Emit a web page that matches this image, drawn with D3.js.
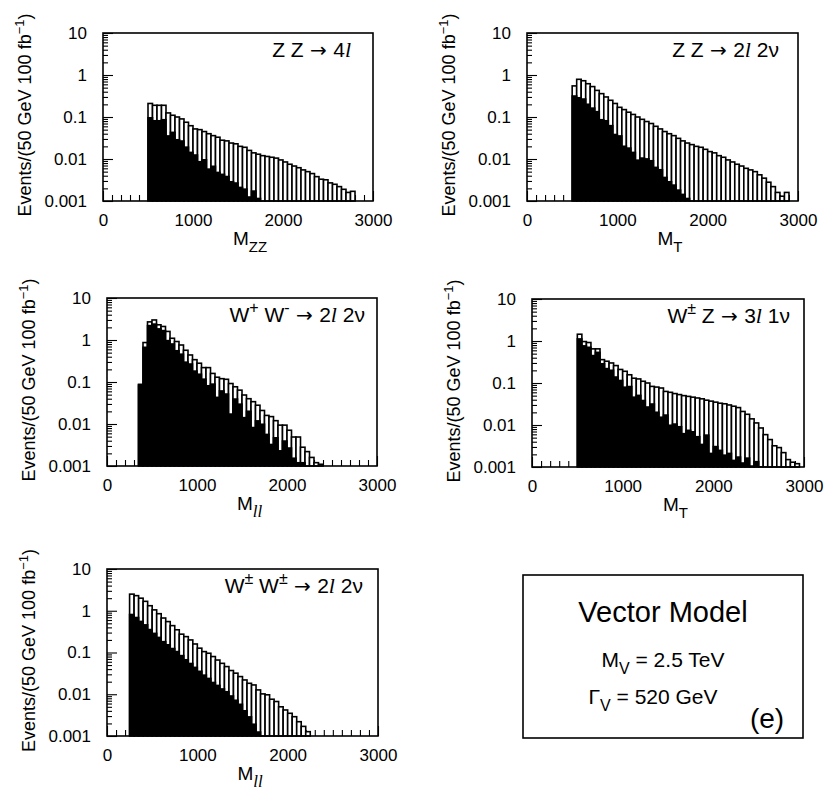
<!DOCTYPE html>
<html><head><meta charset="utf-8">
<script src="https://cdn.jsdelivr.net/npm/d3@7"></script>
<style>
body{margin:0;background:#fff}
text{font-family:"Liberation Sans",Arial,Helvetica,sans-serif;fill:#000}
</style>
</head><body>
<svg id="c" width="825" height="795"></svg>
<script>
// ---------------- data ----------------
const binWidth = 50;
const xTickValues = [0, 1000, 2000, 3000];
const xTickLabels = ["0", "1000", "2000", "3000"];
const yTickValues = [10, 1, 0.1, 0.01, 0.001];
const yTickLabels = ["10", "1", "0.1", "0.01", "0.001"];

// ZZ -> 4l  (M_ZZ), bins start at 500 GeV
const zz4lStart = 500;
const zz4lTotal = [0.21,0.19,0.19,0.19,0.125,0.11,0.10,0.09,0.075,0.062,0.052,0.050,0.045,0.040,0.036,0.033,0.028,0.027,0.024,0.023,0.020,0.019,0.016,0.014,0.013,0.012,0.0115,0.011,0.0105,0.0095,0.0085,0.0075,0.0068,0.0062,0.0055,0.005,0.0045,0.0038,0.0033,0.0032,0.0027,0.0025,0.0022,0.0019,0.0016,0.0017];
const zz4lBlack = [0.10,0.085,0.085,0.09,0.037,0.045,0.03,0.028,0.02,0.015,0.013,0.009,0.01,0.006,0.007,0.005,0.0045,0.004,0.003,0.0028,0.0022,0.002,0.0013,0.0018,0.0012];

// ZZ -> 2l 2nu (M_T)
const zz2l2vStart = 500;
const zz2l2vTotal = [0.55,0.79,0.73,0.62,0.53,0.43,0.36,0.30,0.25,0.21,0.17,0.15,0.13,0.115,0.10,0.088,0.078,0.07,0.06,0.052,0.045,0.040,0.036,0.031,0.027,0.024,0.022,0.020,0.019,0.017,0.015,0.014,0.012,0.011,0.0095,0.0085,0.0075,0.0068,0.006,0.0055,0.005,0.0042,0.0035,0.0028,0.0022,0.0016,0.0013,0.0016];
const zz2l2vBlack = [0.33,0.30,0.28,0.21,0.17,0.14,0.09,0.085,0.065,0.04,0.037,0.021,0.019,0.015,0.0098,0.011,0.0105,0.0095,0.0066,0.0058,0.0038,0.003,0.0025,0.0019,0.0015,0.0012];

// W+W- -> 2l 2nu (M_ll)
const wwStart = 350;
const wwTotal = [0.088,0.87,2.7,3.0,2.3,2.1,1.6,1.1,0.92,0.76,0.57,0.44,0.34,0.28,0.22,0.22,0.16,0.13,0.12,0.116,0.092,0.077,0.064,0.049,0.04,0.034,0.028,0.021,0.016,0.015,0.012,0.0094,0.0094,0.0071,0.0049,0.0049,0.0028,0.0022,0.0016,0.0012,0.0011];
const wwBlack = [0.088,0.70,2.3,2.5,1.92,1.75,1.01,0.84,0.58,0.48,0.31,0.28,0.19,0.16,0.122,0.085,0.093,0.045,0.064,0.054,0.018,0.041,0.031,0.0148,0.021,0.0086,0.0124,0.0103,0.0059,0.0034,0.0049,0.0024,0.0041,0.0028,0.0016,0.00125,0.00125];

// W+-Z -> 3l 1nu (M_T)
const wzStart = 500;
const wzTotal = [1.45,0.97,0.92,0.65,0.65,0.36,0.33,0.30,0.26,0.21,0.19,0.157,0.13,0.125,0.11,0.10,0.083,0.08,0.076,0.063,0.06,0.056,0.053,0.05,0.048,0.046,0.044,0.042,0.039,0.037,0.035,0.033,0.032,0.030,0.028,0.026,0.021,0.018,0.014,0.0112,0.0085,0.0059,0.0045,0.0032,0.0029,0.0022,0.0015,0.0013,0.0012];
const wzBlack = [1.17,0.8,0.74,0.47,0.56,0.3,0.23,0.21,0.145,0.12,0.083,0.086,0.048,0.053,0.04,0.028,0.033,0.021,0.016,0.018,0.0103,0.011,0.0095,0.0065,0.0078,0.0072,0.0055,0.0036,0.006,0.0022,0.0032,0.0026,0.002,0.0022,0.0015,0.0018,0.0013,0.0017,0.0011,0.0014,0.00105];

// W+-W+- -> 2l 2nu (M_ll)
const sswwStart = 250;
const sswwTotal = [2.5,2.3,2.0,1.68,1.32,1.05,0.85,0.67,0.55,0.44,0.35,0.275,0.24,0.2,0.16,0.127,0.105,0.096,0.08,0.066,0.055,0.046,0.037,0.032,0.0265,0.022,0.0183,0.0167,0.0127,0.0102,0.0097,0.0076,0.0067,0.005,0.0042,0.0035,0.0029,0.0022,0.0017,0.00127];
const sswwBlack = [0.85,0.72,0.58,0.48,0.37,0.30,0.24,0.19,0.16,0.13,0.11,0.088,0.07,0.057,0.046,0.037,0.03,0.025,0.02,0.017,0.014,0.012,0.0095,0.0075,0.006,0.0042,0.003,0.002,0.0013];

// ---------------- layout ----------------
const panels = [
  {l:103,r:373,t:33,b:201,start:zz4lStart,total:zz4lTotal,black:zz4lBlack,title:"zz4l",tr:22,xlab:"ZZ",xsubItalic:false},
  {l:527,r:798,t:33,b:201,start:zz2l2vStart,total:zz2l2vTotal,black:zz2l2vBlack,title:"zz2l2v",tr:19,xlab:"T",xsubItalic:false},
  {l:107,r:377,t:298,b:466,start:wwStart,total:wwTotal,black:wwBlack,title:"ww",tr:12,xlab:"ll",xsubItalic:true},
  {l:532,r:804,t:299,b:467,start:wzStart,total:wzTotal,black:wzBlack,title:"wz",tr:14,xlab:"T",xsubItalic:false},
  {l:107,r:378,t:569,b:736,start:sswwStart,total:sswwTotal,black:sswwBlack,title:"ssww",tr:15,xlab:"ll",xsubItalic:true}
];

const svg = d3.select("#c");
const FS = 17;
const SERIF = "'Liberation Serif','Times New Roman',serif";

function minorLog(){
  const out=[];
  for(let e=-3;e<1;e++) for(let d=2;d<=9;d++) out.push(d*Math.pow(10,e));
  return out;
}
function minorX(){
  const out=[];
  for(let v=100;v<3000;v+=100) if(v%1000) out.push(v);
  return out;
}

function addTitle(g,p){
  const t = g.append("text").attr("x",p.r-p.tr).attr("y",p.t+24)
     .attr("text-anchor","end").style("font-size","21px");
  const txt = s => t.append("tspan").text(s);
  const it = s => t.append("tspan").text(s).style("font-family",SERIF).style("font-style","italic").style("font-size","22px");
  const arrow = (dy) => { const a = t.append("tspan").text(" \u2192 ").style("font-family","'DejaVu Sans',sans-serif").style("font-size","20px"); if(dy) a.attr("dy",dy); };
  const sup = s => t.append("tspan").text(s).attr("dy",-9).style("font-size","16px");
  const base = s => t.append("tspan").attr("dy",9).text(s);
  if(p.title==="zz4l"){ txt("Z Z"); arrow(); txt("4"); it("l"); }
  else if(p.title==="zz2l2v"){ txt("Z Z"); arrow(); txt("2"); it("l"); txt(" 2\u03BD"); }
  else if(p.title==="ww"){ txt("W"); sup("+"); base(" W"); sup("-"); arrow(9); txt("2"); it("l"); txt(" 2\u03BD"); }
  else if(p.title==="wz"){ txt("W"); sup("\u00B1"); base(" Z"); arrow(); txt("3"); it("l"); txt(" 1\u03BD"); }
  else if(p.title==="ssww"){ txt("W"); sup("\u00B1"); base(" W"); sup("\u00B1"); arrow(9); txt("2"); it("l"); txt(" 2\u03BD"); }
}

panels.forEach(p=>{
  const x = d3.scaleLinear().domain([0,3000]).range([p.l,p.r]);
  const y = d3.scaleLog().domain([0.001,10]).range([p.b,p.t]).clamp(true);
  const g = svg.append("g");

  // axes (ticks inside)
  const ya = g.append("g").attr("transform",`translate(${p.l},0)`)
    .call(d3.axisLeft(y).tickValues(yTickValues).tickFormat((d,i)=>yTickLabels[i]).tickSize(-10).tickPadding(16));
  const ym = g.append("g").attr("transform",`translate(${p.l},0)`)
    .call(d3.axisLeft(y).tickValues(minorLog()).tickFormat("").tickSize(-5));
  const xa = g.append("g").attr("transform",`translate(0,${p.b})`)
    .call(d3.axisBottom(x).tickValues(xTickValues).tickFormat((d,i)=>xTickLabels[i]).tickSize(-10).tickPadding(13));
  const xm = g.append("g").attr("transform",`translate(0,${p.b})`)
    .call(d3.axisBottom(x).tickValues(minorX()).tickFormat("").tickSize(-6));
  [ya,ym,xa,xm].forEach(a=>{
    a.select(".domain").remove();
    a.selectAll("line").attr("stroke","#000").attr("stroke-width",1.1);
    a.selectAll("text").style("font-size",FS+"px").style("font-family","'Liberation Sans',Arial,sans-serif").attr("fill","#000");
  });

  // histogram
  const bins = p.total.map((v,i)=>({lo:p.start+i*binWidth, v:v, k:p.black[i]||0}));
  g.append("g").selectAll("rect").data(bins.filter(d=>d.v>0.001)).join("rect")
    .attr("x",d=>x(d.lo)).attr("width",d=>x(d.lo+binWidth)-x(d.lo))
    .attr("y",d=>y(d.v)).attr("height",d=>p.b-y(d.v))
    .attr("fill","#fff").attr("stroke","#000").attr("stroke-width",1.6);
  g.append("g").selectAll("rect").data(bins.filter(d=>d.k>0.001)).join("rect")
    .attr("x",d=>x(d.lo)-0.8).attr("width",d=>x(d.lo+binWidth)-x(d.lo)+1.6)
    .attr("y",d=>y(d.k)).attr("height",d=>p.b-y(d.k))
    .attr("fill","#000");

  // frame
  g.append("rect").attr("x",p.l).attr("y",p.t).attr("width",p.r-p.l).attr("height",p.b-p.t)
    .attr("fill","none").attr("stroke","#000").attr("stroke-width",1.6);

  // y title
  const yt = g.append("text").attr("transform",`translate(${p.l-72},${(p.t+p.b)/2-2}) rotate(-90)`)
    .attr("text-anchor","middle").style("font-size","18px");
  yt.append("tspan").text("Events/(50 GeV 100 fb");
  yt.append("tspan").text("\u22121").attr("dy",-7).style("font-size","13px");
  yt.append("tspan").text(")").attr("dy",7);

  // x title
  const xt = g.append("text").attr("x",(p.l+p.r)/2-5).attr("y",p.b+44).style("font-size","19px");
  xt.append("tspan").text("M");
  const sub = xt.append("tspan").text(p.xlab).attr("dy",7).style("font-size","15px");
  if(p.xsubItalic) sub.style("font-family",SERIF).style("font-style","italic").style("font-size","17px");

  addTitle(g,p);
});

// legend box
const box = svg.append("g");
box.append("rect").attr("x",523).attr("y",575).attr("width",280).attr("height",163)
  .attr("fill","none").attr("stroke","#000").attr("stroke-width",1.6);
box.append("text").attr("x",663).attr("y",622).attr("text-anchor","middle").style("font-size","29px").text("Vector Model");
const m = box.append("text").attr("x",663).attr("y",667).attr("text-anchor","middle").style("font-size","21px");
m.append("tspan").text("M");
m.append("tspan").text("V").attr("dy",7).style("font-size","16px");
m.append("tspan").text(" = 2.5 TeV").attr("dy",-7);
const gm = box.append("text").attr("x",653).attr("y",704).attr("text-anchor","middle").style("font-size","21px");
gm.append("tspan").text("\u0393");
gm.append("tspan").text("V").attr("dy",7).style("font-size","16px");
gm.append("tspan").text(" = 520 GeV").attr("dy",-7);
box.append("text").attr("x",767).attr("y",728).attr("text-anchor","middle").style("font-size","28px").text("(e)");
</script>
</body></html>
